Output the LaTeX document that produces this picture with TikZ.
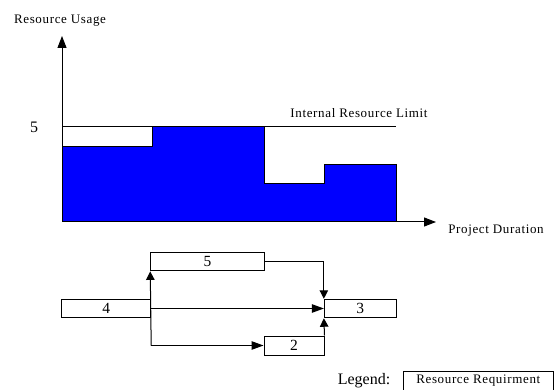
\documentclass[tikz,border=0pt]{standalone}
\usepackage{fontspec}
\setmainfont{Liberation Serif}
\newfontfamily\spacedfont[LetterSpace=5]{Liberation Serif}
\usetikzlibrary{arrows.meta}
\tikzset{
  lbl/.style={inner sep=0pt, font=\spacedfont\fontsize{13}{15}\selectfont},
  big/.style={inner sep=0pt, font=\fontsize{16}{18}\selectfont},
  task/.style={draw, line width=1pt, inner sep=0pt, minimum height=18.5pt, font=\fontsize{15.5}{17}\selectfont},
  axis/.style={line width=1pt, -{Triangle[length=12pt,width=9pt]}},
  hlink/.style={line width=1pt, -{Triangle[length=12pt,width=8.5pt]}},
  vlink/.style={line width=1pt, -{Triangle[length=8.5pt,width=8.5pt]}}
}
\begin{document}
\begin{tikzpicture}[x=1pt,y=-1pt]
\useasboundingbox (0,0) rectangle (554,390);
% usage profile
\draw[line width=1pt, fill={rgb,255:red,0;green,0;blue,255}]
  (62,147) -- (152,147) -- (152,127) -- (264,127) -- (264,184) -- (324,184)
  -- (324,165) -- (396,165) -- (396,222) -- (62,222) -- cycle;
\draw[line width=1pt] (62,127) -- (396,127);
% axes
\coordinate (o) at (62,222);
\coordinate (ytip) at (62,36);
\coordinate (xtip) at (436,222);
\draw[axis] (o) -- (ytip);
\draw[axis] (o) -- (xtip);
% labels
\node[lbl] (ylab) at (60,21) {Resource Usage};
\node[big] (five) at (34,127) {5};
\node[lbl] (limit) at (359,113) {Internal Resource Limit};
\node[lbl] (xlab) at (496,231) {Project Duration};
% network
\node[task, minimum width=113.3pt] (b5) at (207.4,261.7) {5};
\node[task, minimum width=89pt] (b4) at (106.2,308.5) {4};
\node[task, minimum width=71.7pt] (b3) at (360.2,308.5) {3};
\node[task, minimum width=60pt, minimum height=19pt] (b2) at (294,345.5) {2};
\coordinate (j) at (b4.east |- b2.west);
\draw[hlink] (b4.east) -- (b3.west);
\draw[vlink] (j) -- (b5.south west);
\draw[hlink] (j) -- (b2.west);
\draw[vlink] (b5.east) -| (b3.north west);
\draw[vlink] (b2.north east) -- (b3.south west);
% legend
\node[big] (leg) at (364,381) {Legend:};
\node[draw, line width=1pt, inner sep=0pt, minimum width=150pt, minimum height=19pt, lbl] (legbox) at (478.3,380.5) {Resource Requirment};
\end{tikzpicture}
\end{document}
